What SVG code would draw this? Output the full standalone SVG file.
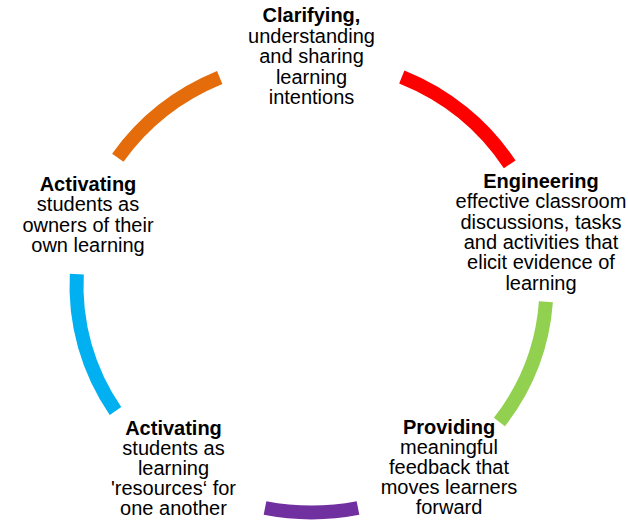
<svg xmlns="http://www.w3.org/2000/svg" width="628" height="520" viewBox="0 0 628 520">
<style>
.arc{fill:none;stroke-width:14;stroke-linecap:butt}
text{font-family:"Liberation Sans",Arial,sans-serif;font-size:20px;fill:#000;text-anchor:middle}
.t{font-weight:bold}
</style>
<rect width="628" height="520" fill="#fff"/>
<g id="connectors">
<path class="arc" stroke="#E46C0A" d="M117.8,157.7 A235,226.5 0 0 1 219.7,77.5"/>
<path class="arc" stroke="#FF0000" d="M401.8,76.9 A235,226.5 0 0 1 509.7,164.3"/>
<path class="arc" stroke="#92D050" d="M545.9,301.8 A235,226.5 0 0 1 499.4,422"/>
<path class="arc" stroke="#7030A0" d="M358,508 A235,226.5 0 0 1 265,508"/>
<path class="arc" stroke="#00B0F0" d="M115.5,411 A235,226.5 0 0 1 76.8,274.2"/>
</g>
<g id="node-clarifying">
<text x="311.5" y="22" class="t">Clarifying,</text>
<text x="311.5" y="42.6">understanding</text>
<text x="311.5" y="63.2">and sharing</text>
<text x="311.5" y="83.8">learning</text>
<text x="311.5" y="104.4">intentions</text>
</g>
<g id="node-engineering">
<text x="541" y="188" class="t">Engineering</text>
<text x="541" y="208.3">effective classroom</text>
<text x="541" y="228.6">discussions, tasks</text>
<text x="541" y="248.9">and activities that</text>
<text x="541" y="269.2">elicit evidence of</text>
<text x="541" y="289.5">learning</text>
</g>
<g id="node-providing">
<text x="449" y="433.5" class="t">Providing</text>
<text x="449" y="453.5">meaningful</text>
<text x="449" y="473.5">feedback that</text>
<text x="449" y="493.5">moves learners</text>
<text x="449" y="513.5">forward</text>
</g>
<g id="node-resources">
<text x="173.5" y="434.5" class="t">Activating</text>
<text x="173.5" y="454.5">students as</text>
<text x="173.5" y="474.5">learning</text>
<text x="173.5" y="494.5">'resources‘ for</text>
<text x="173.5" y="514.5">one another</text>
</g>
<g id="node-owners">
<text x="88" y="190.5" class="t">Activating</text>
<text x="88" y="211">students as</text>
<text x="88" y="231.5">owners of their</text>
<text x="88" y="252">own learning</text>
</g>
</svg>
